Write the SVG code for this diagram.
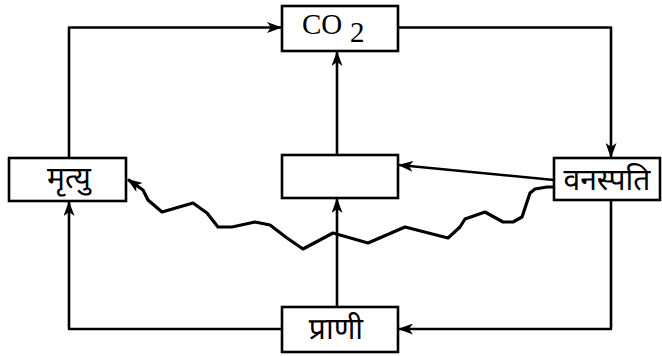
<svg xmlns="http://www.w3.org/2000/svg" width="662" height="356" viewBox="0 0 662 356">
<style>
.box{fill:#fff;stroke:#000;stroke-width:2.6}
.ln{fill:none;stroke:#000;stroke-width:2.6;stroke-linejoin:round}
.wv{fill:none;stroke:#000;stroke-width:3.2;stroke-linejoin:round}
.dv{font-family:"Noto Sans Devanagari","Lohit Devanagari","Noto Serif Devanagari","Noto Sans",sans-serif;font-size:30px;fill:#000;text-anchor:middle}
.lat{font-family:"Liberation Serif","Times New Roman",serif;font-size:29px;fill:#000}
</style>
<defs>
<marker id="ah" viewBox="0 0 15 11" refX="14" refY="5.5" markerWidth="15" markerHeight="11" markerUnits="userSpaceOnUse" orient="auto">
<path d="M0,0 L15,5.5 L0,11 L4,5.5 Z" fill="#000"/>
</marker>
</defs>
<g id="connectors">
<path class="ln" d="M69,158 V27.5 H281" marker-end="url(#ah)"/>
<path class="ln" d="M398,27.5 H611 V157" marker-end="url(#ah)"/>
<path class="ln" d="M337,155 V52" marker-end="url(#ah)"/>
<path class="ln" d="M554,180 L399,165" marker-end="url(#ah)"/>
<path class="ln" d="M611,200 V329 H399" marker-end="url(#ah)"/>
<path class="ln" d="M337,307 V199" marker-end="url(#ah)"/>
<path class="ln" d="M282,329 H69 V202" marker-end="url(#ah)"/>
<path class="wv" d="M554,187 L547,187 L535,189 L530,193 L522,217 L513,222 L503,222 L485,212 L465,219 L460,227 L448,238 L405,227 L368,243 L333,233 L303,249 L287,238 L270,225 L255,222 L232,227 L218,227 L207,213 L193,203 L162,212 L148,200 L143,190 L128,179.5" marker-end="url(#ah)"/>
</g>
<g id="co2">
<rect class="box" x="282" y="6" width="116" height="45"/>
<text class="lat" x="302" y="34">CO</text>
<text class="lat" x="350" y="42" font-size="26">2</text>
</g>
<g id="middle">
<rect class="box" x="282" y="155" width="116" height="43"/>
</g>
<g id="mrityu">
<rect class="box" x="9" y="158" width="117" height="43"/>
<text class="dv" x="69" y="188">मृत्यु</text>
</g>
<g id="vanaspati">
<rect class="box" x="554" y="158" width="106" height="42"/>
<text class="dv" x="607" y="190">वनस्पति</text>
</g>
<g id="prani">
<rect class="box" x="282" y="307" width="116" height="45"/>
<text class="dv" x="336" y="339">प्राणी</text>
</g>
</svg>
